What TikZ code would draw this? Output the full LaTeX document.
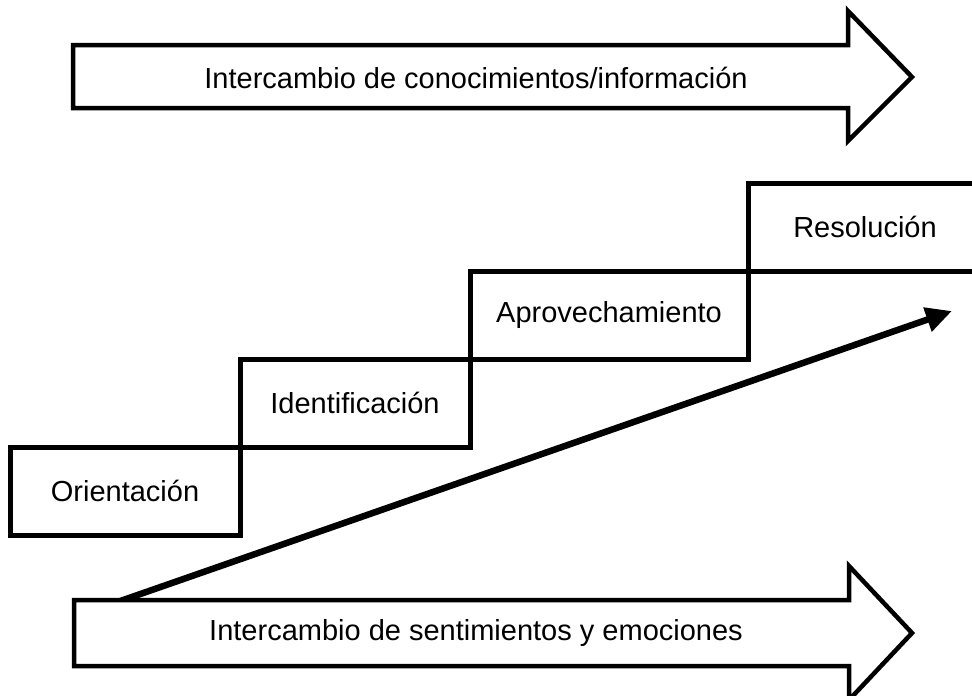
\documentclass[tikz,border=0pt]{standalone}
\usepackage{fontspec}
\setmainfont{Liberation Sans}
\usetikzlibrary{positioning, arrows.meta, calc}

\begin{document}
\begin{tikzpicture}[x=1pt,y=-1pt,
                    stepbox/.style={draw,line width=5pt,minimum height=88pt,outer sep=0pt,
                                    inner sep=0pt,font=\fontsize{29}{34}\selectfont},
                    band/.style={draw,line width=4.5pt,fill=white,miter limit=20},
                    label/.style={font=\fontsize{29}{34}\selectfont}]

  \useasboundingbox (0,0) rectangle (972,696);

  % the four steps
  \node[stepbox,minimum width=230pt,anchor=north west] (orient) at (10,447) {Orientación};
  \node[stepbox,minimum width=230pt] (ident) [above right=0pt and 0pt of orient.north east] {Identificación};
  \node[stepbox,minimum width=278pt] (aprov) [above right=0pt and 0pt of ident.north east] {Aprovechamiento};
  \node[stepbox,minimum width=234pt] (resol) [above right=0pt and 0pt of aprov.north east] {Resolución};

  % rising arrow
  \coordinate (rise start) at (106,606);
  \coordinate (rise end) at (952,311);
  \draw[line width=6.5pt,-{Triangle[length=26pt,width=24pt]}] (rise start) -- (rise end);

  % upper band
  \draw[band] (73,45) -- (848,45) -- (848,11) -- (912,77) -- (848,141) -- (848,108) -- (73,108) -- cycle;
  \node[label] (know) at (476,78) {Intercambio de conocimientos/información};

  % lower band
  \draw[band] (74,600) -- (849,600) -- (849,566) -- (912,633) -- (849,700) -- (849,666) -- (74,666) -- cycle;
  \node[label] (feel) at (476,633) {Intercambio de sentimientos y emociones};
\end{tikzpicture}
\end{document}
